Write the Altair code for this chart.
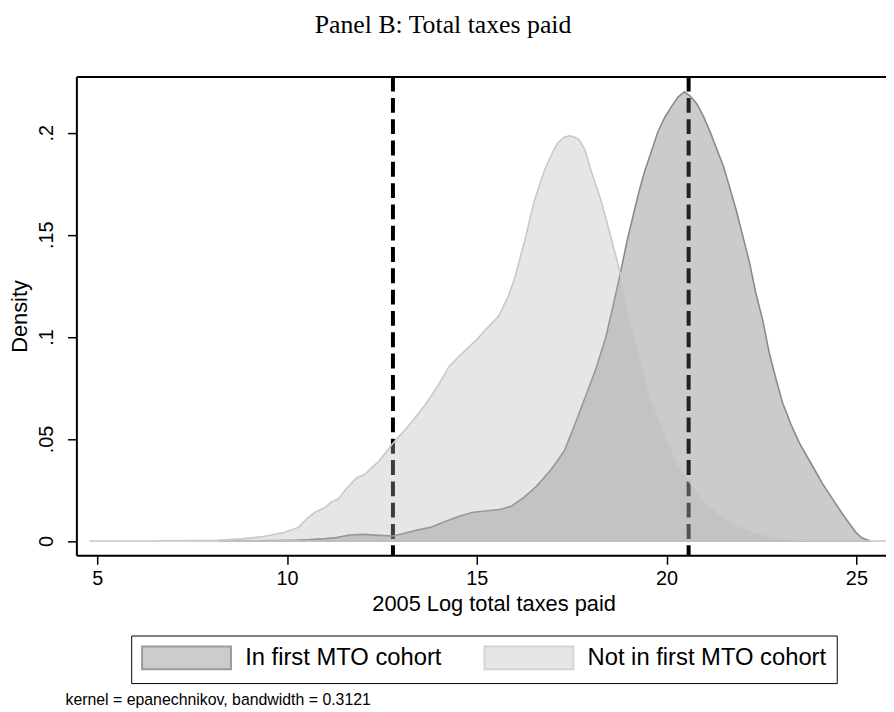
import altair as alt
import pandas as pd

title_text = "Panel B: Total taxes paid"
x_title = "2005 Log total taxes paid"
y_title = "Density"
note_text = "kernel = epanechnikov, bandwidth = 0.3121"
groups = ["In first MTO cohort", "Not in first MTO cohort"]

# density curve: In first MTO cohort
in_x = [8.2, 9.0, 9.65, 10.2, 10.6, 11.0, 11.3, 11.65, 12.0, 12.43, 12.78, 13.1, 13.43,
        13.78, 14.15, 14.52, 14.87, 15.22, 15.6, 15.91, 16.25, 16.57, 16.96, 17.31, 17.6,
        17.92, 18.15, 18.4, 18.6, 18.79, 18.97, 19.1, 19.27, 19.42, 19.6, 19.77, 19.95,
        20.14, 20.3, 20.47, 20.62, 20.8, 20.97, 21.15, 21.3, 21.49, 21.65, 21.84, 22.0,
        22.19, 22.35, 22.54, 22.7, 22.89, 23.05, 23.28, 23.5, 23.84, 24.1, 24.37, 24.63,
        24.8, 25.0, 25.15, 25.37]
in_y = [0.0, 0.0001, 0.0002, 0.0004, 0.0007, 0.0012, 0.0017, 0.0030, 0.0033, 0.0028, 0.0025,
        0.0038, 0.0054, 0.0067, 0.0095, 0.0120, 0.0140, 0.0147, 0.0155, 0.0171, 0.0215,
        0.0268, 0.0351, 0.0443, 0.0580, 0.0736, 0.0850, 0.1000, 0.1160, 0.1320, 0.1480,
        0.1580, 0.1710, 0.1810, 0.1910, 0.2005, 0.2075, 0.2132, 0.2175, 0.2201, 0.2180,
        0.2141, 0.2080, 0.2003, 0.1930, 0.1840, 0.1740, 0.1617, 0.1500, 0.1360, 0.1215,
        0.1075, 0.0925, 0.0788, 0.0680, 0.0570, 0.0480, 0.0369, 0.0284, 0.0207, 0.0134,
        0.0090, 0.0040, 0.0015, 0.0]

# density curve: Not in first MTO cohort
not_x = [4.8, 6.0, 7.0, 7.6, 8.17, 8.87, 9.39, 9.91, 10.30, 10.52, 10.74, 11.0, 11.17,
         11.35, 11.57, 11.83, 12.04, 12.43, 12.78, 13.22, 13.65, 14.0, 14.26, 14.52, 14.87,
         15.0, 15.30, 15.57, 15.83, 16.0, 16.26, 16.52, 16.79, 17.0, 17.13, 17.3, 17.44,
         17.58, 17.70, 17.85, 18.0, 18.27, 18.53, 18.79, 19.05, 19.31, 19.57, 19.92, 20.27,
         20.62, 20.97, 21.40, 21.84, 22.36, 22.97, 23.84, 24.8, 25.8]
not_y = [0.0, 0.00005, 0.0001, 0.0002, 0.0004, 0.0012, 0.0022, 0.0042, 0.0067, 0.0109,
         0.0142, 0.0164, 0.0192, 0.0206, 0.0259, 0.0309, 0.0326, 0.0393, 0.0477, 0.0569,
         0.0669, 0.0769, 0.0853, 0.0903, 0.0965, 0.0987, 0.1050, 0.1100, 0.1200, 0.1290,
         0.1470, 0.1670, 0.1820, 0.1905, 0.1950, 0.1978, 0.1985, 0.1978, 0.1965, 0.1915,
         0.1820, 0.1670, 0.1490, 0.1305, 0.1060, 0.0890, 0.0700, 0.0540, 0.0380, 0.0285,
         0.0195, 0.0130, 0.0075, 0.0038, 0.0012, 0.0003, 0.0001, 0.0]

mean_lines = [12.79, 20.58]
x_ticks = [5, 10, 15, 20, 25]
y_ticks = [0, 0.05, 0.1, 0.15, 0.2]
y_tick_labels = ["0", ".05", ".1", ".15", ".2"]
x_domain = [4.45, 25.78]
y_domain = [-0.00694, 0.22752]

area_fill = ["#646464", "#b4b4b4"]
area_stroke = ["#8a8a8a", "#c8c8c8"]
legend_fill = ["#cccccc", "#e6e6e6"]
legend_stroke = ["#9a9a9a", "#d4d4d4"]

# layout
PAD_L, PAD_T, PAD_R, PAD_B = 69, 66, 0, 160
W, H = 817, 483

curves = pd.concat([
    pd.DataFrame({"x": in_x, "y": in_y, "group": groups[0]}),
    pd.DataFrame({"x": not_x, "y": not_y, "group": groups[1]}),
], ignore_index=True)
lines_df = pd.DataFrame({"x": mean_lines})
legend_df = pd.DataFrame({"cohort": groups})
note_df = pd.DataFrame({"note": [note_text]})

xscale = alt.Scale(domain=x_domain, nice=False, zero=False)
yscale = alt.Scale(domain=y_domain, nice=False, zero=False)

label_expr = "''"
for v, lab in reversed(list(zip(y_ticks, y_tick_labels))):
    label_expr = f"abs(datum.value - {v}) < 0.001 ? '{lab}' : " + label_expr

FONT = "Liberation Sans"

rules = alt.Chart(lines_df).mark_rule(
    color="black", strokeWidth=4, strokeDash=[15, 6.5]
).encode(
    x=alt.X("x:Q", scale=xscale,
            axis=alt.Axis(orient="top", labels=False, ticks=False, title=None,
                          domain=True, domainWidth=2, domainColor="black",
                          grid=False, zindex=1))
)

areas = alt.Chart(curves).mark_area(
    fillOpacity=0.335, strokeWidth=1.6, strokeOpacity=1, interpolate="linear"
).encode(
    x=alt.X("x:Q", scale=xscale,
            axis=alt.Axis(values=x_ticks, format="d", labelFont=FONT, labelFontSize=20,
                          labelColor="black", labelPadding=5, labelBaseline="top",
                          tickSize=9, tickWidth=1.5, tickColor="black",
                          domainWidth=2, domainColor="black", grid=False, zindex=1,
                          title=x_title, titleFont=FONT, titleFontSize=22,
                          titleFontWeight="normal", titleColor="black",
                          titleX=421, titleY=49, titleBaseline="middle",
                          titleAlign="center")),
    y=alt.Y("y:Q", scale=yscale, stack=None,
            axis=alt.Axis(values=y_ticks, labelExpr=label_expr, labelAngle=270,
                          labelAlign="center", labelBaseline="middle",
                          labelFont=FONT, labelFontSize=20, labelColor="black",
                          labelPadding=21, tickSize=9, tickWidth=1.5, tickColor="black",
                          domainWidth=2, domainColor="black", grid=False, zindex=1,
                          title=y_title, titleFont=FONT, titleFontSize=22,
                          titleFontWeight="normal", titleColor="black",
                          titleAngle=270, titleX=-57, titleY=H / 2,
                          titleBaseline="middle", titleAlign="center")),
    fill=alt.Fill("group:N", scale=alt.Scale(domain=groups, range=area_fill), legend=None),
    stroke=alt.Stroke("group:N", scale=alt.Scale(domain=groups, range=area_stroke), legend=None),
)

leg = alt.Legend(
    orient="none", legendX=55.3, legendY=564, direction="horizontal", title=None,
    padding=10, strokeColor="black", labelFont=FONT, labelFontSize=24,
    labelColor="black", labelOffset=80, labelLimit=500, labelBaseline="middle",
    symbolType="M-1,-1L6.8,-1L6.8,1L-1,1Z", symbolSize=529,
    symbolStrokeWidth=2, symbolOpacity=1, columnPadding=38.5, rowPadding=0,
)

legend_layer = alt.Chart(legend_df).transform_filter("false").mark_point(
    filled=True, opacity=1
).encode(
    fill=alt.Fill("cohort:N", scale=alt.Scale(domain=groups, range=legend_fill), legend=leg),
    stroke=alt.Stroke("cohort:N", scale=alt.Scale(domain=groups, range=legend_stroke), legend=leg),
)

note = alt.Chart(note_df).mark_text(
    align="left", baseline="middle", font=FONT, fontSize=16, color="black"
).encode(
    x=alt.value(-11), y=alt.value(629), text="note:N"
)

chart = alt.layer(rules, areas, legend_layer, note).resolve_axis(
    x="independent"
).resolve_scale(
    fill="independent", stroke="independent"
).properties(
    width=W, height=H,
    autosize=alt.AutoSizeParams(type="none"),
    padding={"left": PAD_L, "top": PAD_T, "right": PAD_R, "bottom": PAD_B},
    title=alt.Title(title_text, font="Liberation Serif", fontSize=26,
                    fontWeight="normal", color="black", anchor="middle",
                    frame="group", dx=-38.5, offset=24, baseline="middle"),
    background="white",
).configure_view(stroke=None).configure_axis(grid=False)

chart.save("out.html", embed_options={"renderer": "svg", "actions": False})
